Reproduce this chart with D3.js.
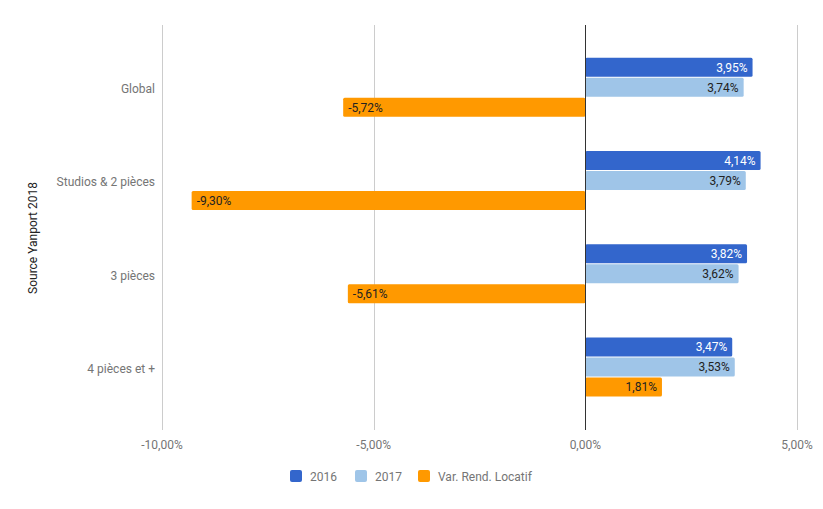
<!DOCTYPE html>
<html><head><meta charset="utf-8">
<script src="https://cdn.jsdelivr.net/npm/d3@7"></script>
<style>body{margin:0;background:#fff;font-family:Roboto,"Noto Sans",sans-serif;}</style>
</head><body><div id="chart"></div>
<script>
const categories = ["Global", "Studios & 2 pièces", "3 pièces", "4 pièces et +"];
const seriesNames = ["2016", "2017", "Var. Rend. Locatif"];
const values2016 = [3.95, 4.14, 3.82, 3.47];
const values2017 = [3.74, 3.79, 3.62, 3.53];
const valuesVar = [-5.72, -9.30, -5.61, 1.81];
const xTicks = [-10, -5, 0, 5];
const colors = ["#3366cc", "#9fc5e8", "#ff9900"];
const labelColors = ["#ffffff", "#222222", "#222222"];

const W = 823, H = 509;
const svg = d3.select("#chart").append("svg").attr("width", W).attr("height", H);
const plotTop = 25, plotBottom = 430;
const x = d3.scaleLinear().domain([-10, 5]).range([162, 797]);
const y0 = d3.scaleBand().domain(categories).range([41, 414]).padding(0);
const y1 = d3.scaleBand().domain(seriesNames).range([0, 60]).padding(0);
const fmt = v => d3.format(".2f")(v).replace(".", ",").replace("\u2212", "-") + "%";

const data = categories.map((c, i) => ({cat: c, vals: [values2016[i], values2017[i], valuesVar[i]]}));

// gridlines
svg.append("g").selectAll("line").data(xTicks.filter(t => t !== 0)).join("line")
  .attr("x1", d => Math.round(x(d)) + 0.5).attr("x2", d => Math.round(x(d)) + 0.5)
  .attr("y1", plotTop).attr("y2", plotBottom).attr("stroke", "#cccccc").attr("stroke-width", 1);

// tick labels
svg.append("g").selectAll("text").data(xTicks).join("text")
  .attr("x", d => x(d)).attr("y", 449).attr("text-anchor", "middle")
  .attr("font-size", 12).attr("fill", "#757575").text(d => fmt(d));

// category labels
svg.append("g").selectAll("text").data(categories).join("text")
  .attr("x", 155).attr("y", d => y0(d) + y0.bandwidth() / 2 + 5.5)
  .attr("text-anchor", "end").attr("font-size", 12).attr("fill", "#757575").text(d => d);

// bars
const groups = svg.append("g").selectAll("g").data(data).join("g")
  .attr("transform", d => `translate(0,${y0(d.cat) + (y0.bandwidth() - 60) / 2})`);
groups.each(function(d) {
  const g = d3.select(this);
  d.vals.forEach((v, k) => {
    const yy = y1(seriesNames[k]);
    const h = y1.bandwidth() - 1;
    g.append("rect").attr("x", Math.min(x(0), x(v))).attr("y", yy)
      .attr("width", Math.abs(x(v) - x(0))).attr("height", h)
      .attr("rx", 1.5).attr("fill", colors[k]);
    const neg = v < 0;
    g.append("text").attr("x", neg ? x(v) + 5 : x(v) - 5).attr("y", yy + h / 2 + 4.5)
      .attr("text-anchor", neg ? "start" : "end").attr("font-size", 12)
      .attr("fill", labelColors[k]).text(fmt(v));
  });
});

// zero line
svg.append("line").attr("x1", Math.round(x(0)) + 0.5).attr("x2", Math.round(x(0)) + 0.5)
  .attr("y1", plotTop).attr("y2", plotBottom).attr("stroke", "#333333").attr("stroke-width", 1);

// y axis title
svg.append("text").attr("transform", "translate(37,238) rotate(-90)")
  .attr("text-anchor", "middle").attr("font-size", 12).attr("fill", "#222222").text("Source Yanport 2018");

// legend
const legX = [290, 355, 418];
const leg = svg.append("g").selectAll("g").data(seriesNames).join("g")
  .attr("transform", (d, i) => `translate(${legX[i]},470)`);
leg.append("rect").attr("width", 12).attr("height", 12).attr("rx", 2).attr("fill", (d, i) => colors[i]);
leg.append("text").attr("x", 20).attr("y", 10.5).attr("font-size", 12).attr("fill", "#757575").text(d => d);
</script></body></html>
